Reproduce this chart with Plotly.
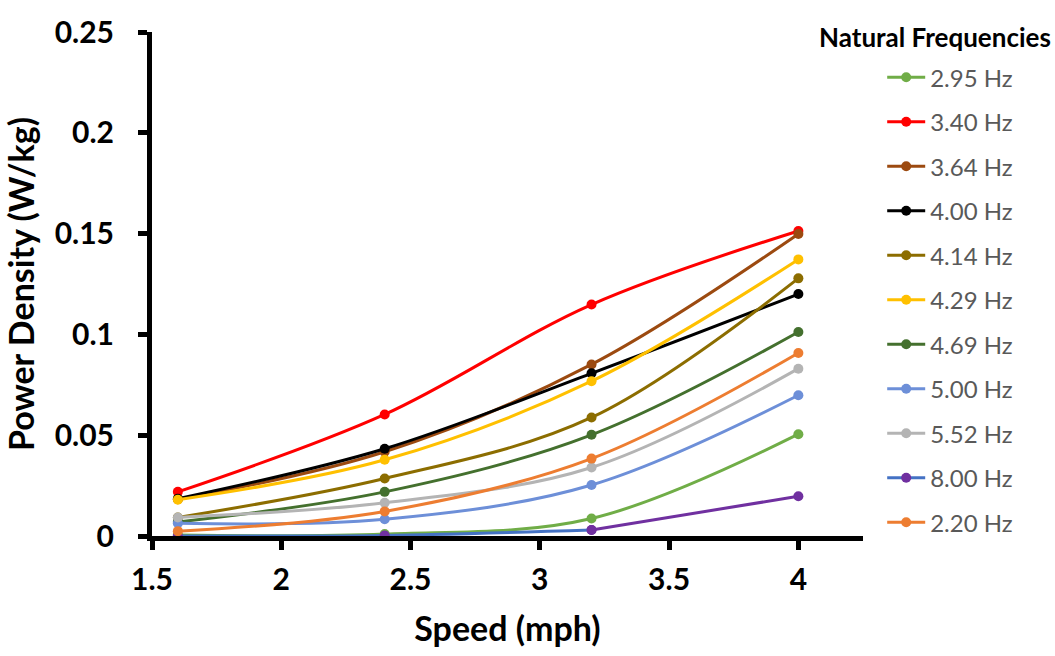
import plotly.graph_objects as go

speed = [1.6, 2.4, 3.2, 4.0]

labels = ["2.95 Hz", "3.40 Hz", "3.64 Hz", "4.00 Hz", "4.14 Hz", "4.29 Hz",
          "4.69 Hz", "5.00 Hz", "5.52 Hz", "8.00 Hz", "2.20 Hz"]

f295 = [0.0005, 0.0010, 0.0087, 0.0505]
f340 = [0.0219, 0.0603, 0.1148, 0.1513]
f364 = [0.0182, 0.0418, 0.0851, 0.1498]
f400 = [0.0185, 0.0433, 0.0807, 0.1200]
f414 = [0.0092, 0.0285, 0.0588, 0.1278]
f429 = [0.0180, 0.0378, 0.0768, 0.1372]
f469 = [0.0070, 0.0219, 0.0502, 0.1012]
f500 = [0.0063, 0.0083, 0.0253, 0.0698]
f552 = [0.0092, 0.0165, 0.0340, 0.0830]
f800 = [0.0000, 0.0003, 0.0030, 0.0197]
f220 = [0.0024, 0.0122, 0.0384, 0.0908]

series = [f295, f340, f364, f400, f414, f429, f469, f500, f552, f800, f220]
line_colors = ["#70AD47", "#FF0000", "#9C4A10", "#000000", "#8C6D00", "#FFC000",
               "#44702E", "#6D8FD8", "#B4B4B4", "#4472C4", "#ED7D31"]
marker_colors = ["#70AD47", "#FF0000", "#9C4A10", "#000000", "#8C6D00", "#FFC000",
                 "#44702E", "#6D8FD8", "#B4B4B4", "#7030A0", "#ED7D31"]

xtick_vals = [1.5, 2, 2.5, 3, 3.5, 4]
ytick_vals = [0, 0.05, 0.1, 0.15, 0.2, 0.25]
ytick_text = ["0", "0.05", "0.1", "0.15", "0.2", "0.25"]

FONT = "Lato"
fig = go.Figure()

for i, (lab, ys) in enumerate(zip(labels, series)):
    if lab == "8.00 Hz":
        # first part drawn in blue, last segment in purple (as in the original)
        fig.add_trace(go.Scatter(
            x=speed[2:], y=ys[2:], mode="lines+markers",
            line=dict(color=marker_colors[i], width=3, shape="spline"),
            marker=dict(color=marker_colors[i], size=10),
            showlegend=False, legendgroup=lab, hoverinfo="skip"))
        fig.add_trace(go.Scatter(
            x=speed[:3], y=ys[:3], mode="lines+markers", name=lab,
            line=dict(color=line_colors[i], width=3, shape="spline"),
            marker=dict(color=marker_colors[i], size=10),
            legendgroup=lab))
    else:
        fig.add_trace(go.Scatter(
            x=speed, y=ys, mode="lines+markers", name=lab,
            line=dict(color=line_colors[i], width=3, shape="spline", smoothing=1),
            marker=dict(color=marker_colors[i], size=10),
            legendgroup=lab))

fig.update_layout(
    width=1055, height=656,
    margin=dict(l=152, r=192, t=22, b=120),
    plot_bgcolor="white", paper_bgcolor="white",
    font=dict(family=FONT, color="black"),
    showlegend=True,
    legend=dict(
        x=1.027, y=0.954, xanchor="left", yanchor="top",
        font=dict(family=FONT, size=24, color="#595959"),
        tracegroupgap=10.3, itemwidth=38,
        bgcolor="rgba(0,0,0,0)",
    ),
    annotations=[dict(
        text="<b>Natural Frequencies</b>", x=1.101, y=0.99, xref="paper", yref="paper",
        xanchor="center", yanchor="middle", showarrow=False,
        font=dict(family=FONT, size=26, color="black"))],
)

fig.update_xaxes(
    range=[1.5, 4.25], tickvals=xtick_vals,
    ticktext=[f"<b>{v:g}</b>" for v in xtick_vals],
    showline=True, linecolor="black", linewidth=5,
    ticks="outside", ticklen=9, tickwidth=5, tickcolor="black",
    ticklabelstandoff=4,
    showgrid=False, zeroline=False,
    tickfont=dict(family=FONT, size=30, color="black"),
    title=dict(text="<b>Speed (mph)</b>", font=dict(family=FONT, size=34, color="black"), standoff=24),
)
fig.update_yaxes(
    range=[0, 0.25], tickvals=ytick_vals,
    ticktext=[f"<b>{t}</b>" for t in ytick_text],
    showline=True, linecolor="black", linewidth=5,
    ticks="outside", ticklen=9, tickwidth=5, tickcolor="black",
    ticklabelstandoff=18,
    showgrid=False, zeroline=False,
    tickfont=dict(family=FONT, size=30, color="black"),
    title=dict(text="<b>Power Density (W/kg)</b>", font=dict(family=FONT, size=34, color="black"), standoff=12),
)

fig.write_html("out.html")
